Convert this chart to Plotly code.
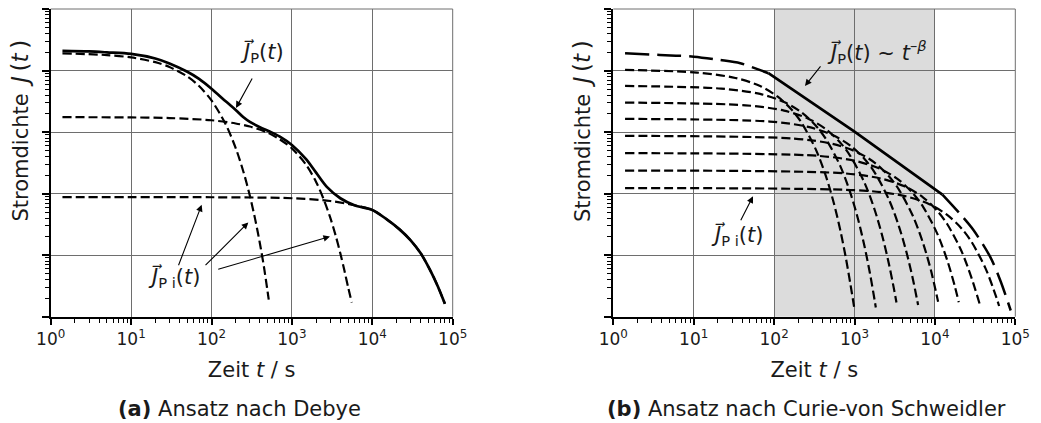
import plotly.graph_objects as go

# ---------------- (a) Debye: three relaxation currents and their sum ----------------
deb_t1 = [1.4, 5, 10, 20, 30, 50, 70, 100, 150, 200, 250, 300, 350, 400, 450, 515]
deb_j1 = [0.1905, 0.1786, 0.1633, 0.1368, 0.1143, 0.0800, 0.0560, 0.0327, 0.01343,
          0.00550, 0.00225, 9.20e-4, 3.78e-4, 1.55e-4, 6.32e-5, 1.9e-5]
deb_t2 = [1.4, 10, 30, 100, 200, 300, 500, 700, 1000, 1500, 2000, 2500, 3000, 3500,
          4000, 4500, 5000, 5550]
deb_j2 = [0.01746, 0.01730, 0.01690, 0.01556, 0.01380, 0.01230, 0.00977, 0.00767,
          0.00543, 0.00295, 0.00155, 7.94e-4, 4.07e-4, 2.09e-4, 1.07e-4, 5.62e-5,
          3.02e-5, 1.70e-5]
deb_t3 = [1.4, 100, 1000, 3000, 6000, 10000, 15000, 22000, 30000, 40000, 52000, 65000, 80000]
deb_j3 = [8.77e-4, 8.73e-4, 8.41e-4, 7.59e-4, 6.46e-4, 5.43e-4, 3.85e-4, 2.60e-4,
          1.74e-4, 1.07e-4, 5.82e-5, 3.16e-5, 1.62e-5]
deb_t_sum = [1.4, 3, 5, 10, 20, 30, 50, 70, 100, 150, 200, 250, 300, 400, 530, 700, 1000,
             1500, 2000, 2700, 4000, 6000, 10000, 15000, 22000, 30000, 40000, 52000,
             65000, 80000]
deb_j_sum = [0.2089, 0.2042, 0.1972, 0.1862, 0.1567, 0.1303, 0.0955, 0.0733, 0.0507,
             0.0316, 0.0229, 0.0174, 0.01462, 0.01202, 0.01023, 0.00851, 0.00617,
             0.00363, 0.00219, 0.00130, 8.41e-4, 6.46e-4, 5.43e-4, 3.85e-4, 2.60e-4,
             1.74e-4, 1.07e-4, 5.82e-5, 3.16e-5, 1.62e-5]

# ---------------- (b) Curie-von Schweidler: eight partial currents ----------------
cvs_t1 = [1.4, 11, 33, 67, 111, 167, 222, 333, 444, 555, 666, 777, 888, 988]
cvs_j1 = [0.1023, 0.0926, 0.0758, 0.0561, 0.0376, 0.0228, 0.01384, 0.00509, 0.001874,
          6.89e-4, 2.54e-4, 9.33e-5, 3.43e-5, 1.45e-5]
cvs_t2 = [1.4, 22, 67, 133, 222, 333, 444, 666, 888, 1110, 1332, 1554, 1776, 1841]
cvs_j2 = [0.05623, 0.05088, 0.04166, 0.03086, 0.02069, 0.01254, 0.00761, 0.00280,
          0.00103, 3.79e-4, 1.39e-4, 5.13e-5, 1.88e-5, 1.41e-5]
cvs_t3 = [1.4, 44, 133, 266, 444, 666, 888, 1332, 1776, 2220, 2664, 3108, 3326]
cvs_j3 = [0.03013, 0.02726, 0.02232, 0.01654, 0.01108, 0.00672, 0.00408, 0.00150,
          5.52e-4, 2.03e-4, 7.47e-5, 2.75e-5, 1.70e-5]
cvs_t4 = [1.4, 89, 266, 533, 888, 1332, 1776, 2664, 3552, 4440, 5328, 6180]
cvs_j4 = [0.01637, 0.01481, 0.01213, 0.00898, 0.00602, 0.00365, 0.002215, 8.15e-4,
          3.00e-4, 1.103e-4, 4.06e-5, 1.55e-5]
cvs_t5 = [1.4, 178, 533, 1066, 1776, 2664, 3552, 5328, 7104, 8880, 10960]
cvs_j5 = [0.00867, 0.00784, 0.00642, 0.00476, 0.00319, 0.001934, 0.001173, 4.32e-4,
          1.588e-4, 5.84e-5, 1.75e-5]
cvs_t6 = [1.4, 355, 1066, 2131, 3552, 5328, 7104, 10656, 14208, 17760, 19800]
cvs_j6 = [0.00454, 0.00411, 0.003363, 0.002492, 0.00167, 0.001013, 6.14e-4, 2.26e-4,
          8.32e-5, 3.06e-5, 1.72e-5]
cvs_t7 = [1.4, 710, 2131, 4262, 7104, 10656, 14208, 21312, 28416, 36100]
cvs_j7 = [0.00237, 0.002144, 0.001756, 0.00130, 8.72e-4, 5.29e-4, 3.21e-4, 1.18e-4,
          4.34e-5, 1.60e-5]
cvs_t8 = [1.4, 1421, 4262, 8525, 14208, 21312, 28416, 42624, 56832, 62900]
cvs_j8 = [0.001227, 0.00111, 9.09e-4, 6.73e-4, 4.51e-4, 2.74e-4, 1.66e-4, 6.11e-5,
          2.25e-5, 1.49e-5]
# total current: long-dashed outside, solid power law t^-beta in the middle
cvs_t_sum = [1.4, 3.8, 10, 21, 38, 70, 85, 1000, 12400, 20500, 30000, 48400, 64600, 87700]
cvs_j_sum = [0.191, 0.1791, 0.1683, 0.1486, 0.1312, 0.0995, 0.0904, 0.0102, 9.64e-4,
             4.70e-4, 2.58e-4, 9.53e-5, 3.99e-5, 1.26e-5]

x_ticks = [1, 10, 100, 1e3, 1e4, 1e5]
x_ticktext = ["10<sup>0</sup>", "10<sup>1</sup>", "10<sup>2</sup>", "10<sup>3</sup>",
              "10<sup>4</sup>", "10<sup>5</sup>"]
y_ticks = [1e-5, 1e-4, 1e-3, 1e-2, 1e-1, 1]

FONT = "DejaVu Sans"
INK = "#1a1a1a"
GRID = "#6e6e6e"
DASH = "9px,4px"
LONGDASH = "24px,8px"

fig = go.Figure()

def add(t, j, xa, ya, dash=None, width=2.2):
    fig.add_trace(go.Scatter(
        x=t, y=j, xaxis=xa, yaxis=ya, mode="lines", showlegend=False, hoverinfo="skip",
        line=dict(color="black", width=width, dash=dash, shape="spline", smoothing=0.85)))

# panel (a)
add(deb_t1, deb_j1, "x", "y", DASH)
add(deb_t2, deb_j2, "x", "y", DASH)
add(deb_t3, deb_j3, "x", "y", DASH)
add(deb_t_sum, deb_j_sum, "x", "y", None, 2.7)

# panel (b)
for t, j in [(cvs_t1, cvs_j1), (cvs_t2, cvs_j2), (cvs_t3, cvs_j3), (cvs_t4, cvs_j4),
             (cvs_t5, cvs_j5), (cvs_t6, cvs_j6), (cvs_t7, cvs_j7), (cvs_t8, cvs_j8)]:
    add(t, j, "x2", "y2", DASH)
add(cvs_t_sum[:7], cvs_j_sum[:7], "x2", "y2", LONGDASH, 2.5)
add(cvs_t_sum[8:], cvs_j_sum[8:], "x2", "y2", LONGDASH, 2.5)
fig.add_trace(go.Scatter(
    x=cvs_t_sum[6:9], y=cvs_j_sum[6:9], xaxis="x2", yaxis="y2", mode="lines",
    showlegend=False, hoverinfo="skip", line=dict(color="black", width=2.7)))

W, H = 1041, 423
y_dom = [1 - 316.7 / H, 1 - 9 / H]
xa_dom = [50.7 / W, 452.7 / W]
xb_dom = [613.3 / W, 1015.3 / W]

minor_x = [k * 10 ** n for n in range(5) for k in range(2, 10)]
minor_y = [k * 10.0 ** n for n in range(-5, 0) for k in range(2, 10)]

def xaxis(dom, anchor):
    return dict(
        domain=dom, anchor=anchor, type="log", range=[0, 5], automargin=False,
        tickmode="array", tickvals=x_ticks, ticktext=x_ticktext,
        ticks="outside", ticklen=6, tickwidth=2, tickcolor="black",
        showline=True, linecolor="black", linewidth=2,
        showgrid=True, gridcolor=GRID, gridwidth=1, zeroline=False,
        minor=dict(tickmode="array", tickvals=minor_x, ticks="outside", ticklen=4,
                   tickwidth=1, tickcolor="black", showgrid=False),
        tickfont=dict(size=17, family=FONT, color=INK),
        title=dict(text="Zeit <i>t</i> / s", font=dict(size=21, family=FONT, color=INK),
                   standoff=14),
    )

def yaxis(anchor):
    return dict(
        domain=y_dom, anchor=anchor, type="log", range=[-5, 0], automargin=False,
        tickmode="array", tickvals=y_ticks, showticklabels=False,
        ticks="outside", ticklen=7, tickwidth=2, tickcolor="black",
        showline=True, linecolor="black", linewidth=2,
        showgrid=True, gridcolor=GRID, gridwidth=1, zeroline=False,
        minor=dict(tickmode="array", tickvals=minor_y, ticks="outside", ticklen=4,
                   tickwidth=1, tickcolor="black", showgrid=False),
    )

YTITLE = ("Stromdichte\u2002<span style='font-size:23px'><i>J</i>\u2009(<i>t</i>\u2009)"
          "</span>")

shapes = [
    dict(type="rect", xref="x2", yref="y2 domain", x0=100, x1=10000, y0=0, y1=1,
         fillcolor="#dcdcdc", line=dict(width=0), layer="below"),
]
for xr, yr in [("x domain", "y domain"), ("x2 domain", "y2 domain")]:
    shapes.append(dict(type="line", xref=xr, yref=yr, x0=0, x1=1, y0=1, y1=1,
                       line=dict(color=GRID, width=1), layer="below"))
    shapes.append(dict(type="line", xref=xr, yref=yr, x0=1, x1=1, y0=0, y1=1,
                       line=dict(color=GRID, width=1), layer="below"))

JV = "<i>J\u20d7</i>"
ann_font = dict(size=21, family=FONT, color=INK)

def label(xr, yr, x, y, text):
    return dict(xref=xr, yref=yr, x=x, y=y, text=text, showarrow=False,
                xanchor="center", yanchor="middle", font=ann_font)

def arrow(xr, yr, x_tail, y_tail, x_head, y_head):
    return dict(xref=xr, yref=yr, axref=xr, ayref=yr, x=x_head, y=y_head,
                ax=x_tail, ay=y_tail, text="", showarrow=True, arrowhead=2,
                arrowsize=1.2, arrowwidth=1.1, arrowcolor="black", standoff=0,
                startstandoff=0)

annotations = [
    # y-axis titles
    dict(xref="paper", yref="paper", x=19.5 / W, y=1 - 131 / H, textangle=-90,
         showarrow=False, xanchor="center", yanchor="middle", font=ann_font, text=YTITLE),
    dict(xref="paper", yref="paper", x=582 / W, y=1 - 131 / H, textangle=-90,
         showarrow=False, xanchor="center", yanchor="middle", font=ann_font, text=YTITLE),
    # panel (a) — annotation coordinates on log axes are given in decades
    label("x", "y", 2.63, -0.70, JV + "<sub>P</sub>(<i>t</i>)"),
    arrow("x", "y", 2.516, -1.104, 2.305, -1.607),
    label("x", "y", 1.534, -4.367, JV + "<sub>P i</sub>(<i>t</i>)"),
    arrow("x", "y", 1.583, -4.188, 1.878, -3.182),
    arrow("x", "y", 1.907, -4.188, 2.458, -3.469),
    arrow("x", "y", 2.065, -4.237, 3.474, -3.696),
    # panel (b)
    label("x2", "y2", 3.28, -0.70,
          JV + "<sub>P</sub>(<i>t</i>) ~ <i>t</i><sup>\u2013<i>\u03b2</i></sup>"),
    arrow("x2", "y2", 2.592, -0.909, 2.384, -1.25),
    label("x2", "y2", 1.537, -3.685, JV + "<sub>P i</sub>(<i>t</i>)"),
    arrow("x2", "y2", 1.576, -3.458, 1.738, -3.044),
    # captions
    dict(xref="paper", yref="paper", x=239 / W, y=1 - 409 / H, showarrow=False,
         xanchor="center", yanchor="middle", font=ann_font,
         text="<b>(a)</b> Ansatz nach Debye"),
    dict(xref="paper", yref="paper", x=806 / W, y=1 - 409 / H, showarrow=False,
         xanchor="center", yanchor="middle", font=ann_font,
         text="<b>(b)</b> Ansatz nach Curie-von Schweidler"),
]

fig.update_layout(
    width=W, height=H, margin=dict(l=0, r=0, t=0, b=0),
    paper_bgcolor="white", plot_bgcolor="white",
    font=dict(family=FONT, color=INK),
    xaxis=xaxis(xa_dom, "y"), yaxis=yaxis("x"),
    xaxis2=xaxis(xb_dom, "y2"), yaxis2=yaxis("x2"),
    shapes=shapes, annotations=annotations,
)

fig.write_html("out.html", config={"displayModeBar": False, "staticPlot": True},
               post_script="document.body.style.margin='0px';")
